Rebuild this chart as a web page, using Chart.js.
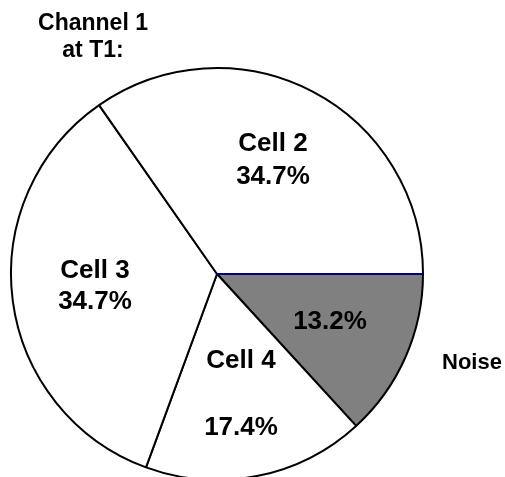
<!DOCTYPE html>
<html lang="en">
<head>
    <meta charset="UTF-8">
    <title>Channel 1 at T1</title>
    <script src="https://cdn.jsdelivr.net/npm/chart.js"></script>
    <style>
        html, body { margin: 0; padding: 0; background: #fff; overflow: hidden; }
    </style>
</head>
<body>
    <div style="width: 505px; height: 490px; position: relative;">
        <canvas id="myChart"></canvas>
    </div>

    <script>
        // slices, clockwise from 3 o'clock
        const categories = ['Noise', 'Cell 4', 'Cell 3', 'Cell 2'];
        const percents = [13.2, 17.4, 34.7, 34.7];
        const sliceColors = ['#808080', '#ffffff', '#ffffff', '#ffffff'];

        // text placed relative to the pie centre (px)
        const sliceTexts = [
            { text: 'Cell 2', dx: 56, dy: -130, size: 26 },
            { text: '34.7%', dx: 56, dy: -97, size: 26 },
            { text: 'Cell 3', dx: -122, dy: -3, size: 26 },
            { text: '34.7%', dx: -122, dy: 28, size: 26 },
            { text: '13.2%', dx: 113, dy: 48, size: 26 },
            { text: 'Cell 4', dx: 24, dy: 87, size: 26 },
            { text: '17.4%', dx: 24, dy: 154, size: 26 },
            { text: 'Noise', dx: 255, dy: 89, size: 22 }
        ];

        // separating line at the start of the Noise slice is navy
        const labelPlugin = {
            id: 'pieText',
            afterDatasetsDraw(chart) {
                const ctx = chart.ctx;
                const arc = chart.getDatasetMeta(0).data[0];
                const cx = arc.x, cy = arc.y;
                ctx.save();
                ctx.strokeStyle = '#000080';
                ctx.lineWidth = 2;
                ctx.beginPath();
                ctx.moveTo(cx, cy);
                ctx.lineTo(cx + arc.outerRadius * Math.cos(arc.startAngle),
                           cy + arc.outerRadius * Math.sin(arc.startAngle));
                ctx.stroke();

                ctx.fillStyle = '#000';
                ctx.textAlign = 'center';
                ctx.textBaseline = 'middle';
                sliceTexts.forEach(function (t) {
                    ctx.font = 'bold ' + t.size + 'px "Liberation Sans", Arial, sans-serif';
                    ctx.fillText(t.text, cx + t.dx, cy + t.dy);
                });

                // title top-left
                ctx.font = 'bold 23px "Liberation Sans", Arial, sans-serif';
                ctx.fillText('Channel 1', 93, 24);
                ctx.fillText('at T1:', 93, 51);
                ctx.restore();
            }
        };

        const config = {
            type: 'pie',
            data: {
                labels: categories,
                datasets: [{
                    data: percents,
                    backgroundColor: sliceColors,
                    borderColor: '#000000',
                    borderWidth: 2
                }]
            },
            options: {
                responsive: true,
                maintainAspectRatio: false,
                animation: false,
                rotation: 90,
                layout: { padding: { left: 10, right: 81, top: 67, bottom: 9 } },
                plugins: {
                    legend: { display: false },
                    tooltip: { enabled: false }
                }
            },
            plugins: [labelPlugin]
        };

        const ctx = document.getElementById('myChart').getContext('2d');
        new Chart(ctx, config);
    </script>
</body>
</html>
